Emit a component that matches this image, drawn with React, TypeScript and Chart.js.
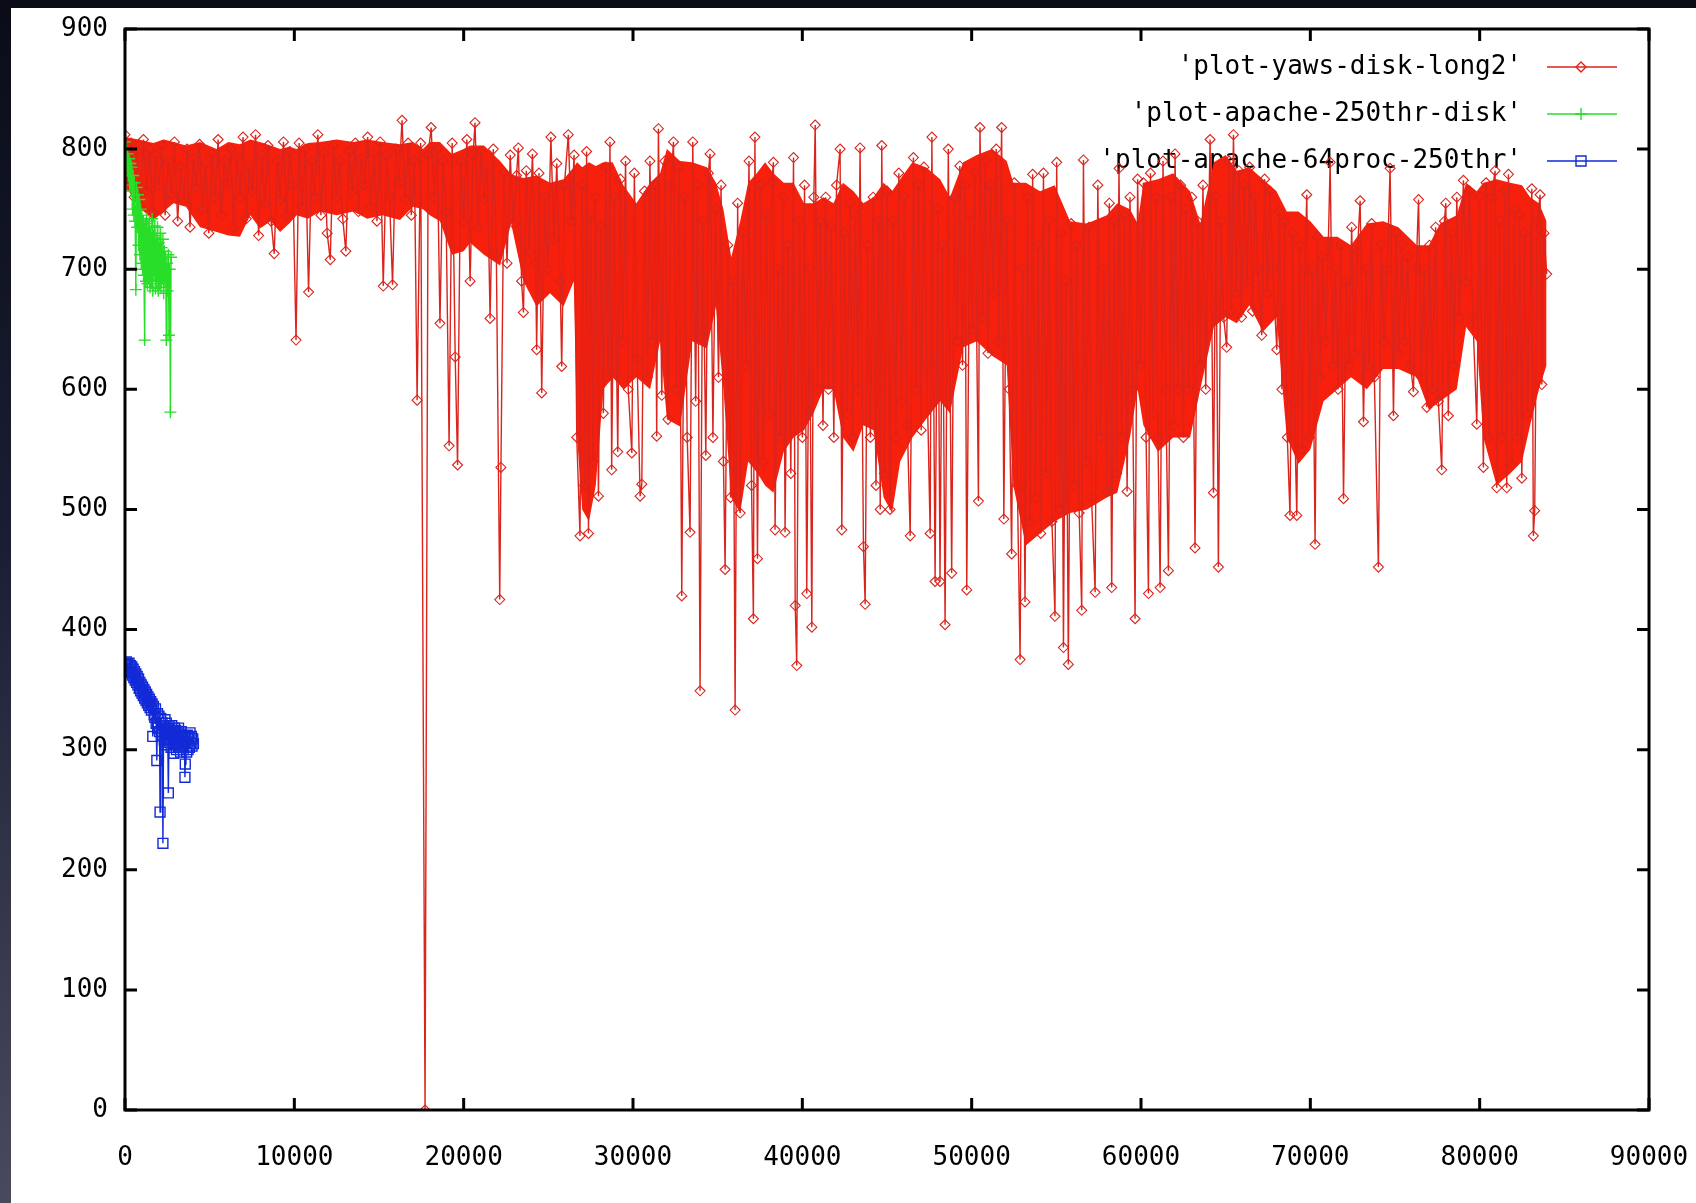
import { useEffect, useRef } from "react";
import { Chart, registerables } from "chart.js";

Chart.register(...registerables);

// ---- data ----
const seriesLabels = [
  "'plot-yaws-disk-long2'",
  "'plot-apache-250thr-disk'",
  "'plot-apache-64proc-250thr'",
];

const xTickValues = [0, 10000, 20000, 30000, 40000, 50000, 60000, 70000, 80000, 90000];
const yTickValues = [0, 100, 200, 300, 400, 500, 600, 700, 800, 900];

// individual samples of the yaws run (spikes and peaks that stick out of the dense mass)
const yawsDiskLong2: [number, number][] = [
  [0, 812], [170, 770], [360, 805], [540, 760], [720, 798], [900, 752], [1090, 808], [1270, 765], [1450, 800], [1640, 748],
  [1820, 795], [2000, 770], [2190, 803], [2370, 745], [2560, 790], [2740, 762], [2920, 806], [3110, 740], [3290, 785], [3480, 758],
  [3660, 800], [3840, 735], [4030, 792], [4210, 768], [4400, 804], [4580, 750], [4760, 788], [4950, 730], [5130, 796], [5320, 760],
  [5500, 808], [5680, 745], [5870, 790], [6050, 772], [6240, 800], [6420, 735], [6600, 793], [6790, 760], [6970, 810], [7160, 742],
  [7340, 785], [7520, 765], [7710, 812], [7890, 728], [8080, 795], [8260, 755], [8440, 803], [8630, 740], [8810, 713], [9000, 790],
  [9180, 758], [9360, 806], [9550, 745], [9730, 798], [9920, 770], [10100, 641], [10280, 805], [10470, 752], [10650, 800], [10840, 681],
  [11020, 790], [11200, 760], [11390, 812], [11570, 745], [11760, 797], [11940, 730], [12120, 708], [12310, 803], [12490, 760], [12680, 790],
  [12860, 742], [13040, 715], [13230, 798], [13410, 765], [13600, 805], [13780, 748], [13960, 792], [14150, 770], [14330, 810], [14520, 752],
  [14700, 796], [14880, 740], [15070, 806], [15250, 686], [15440, 795], [15620, 760], [15800, 687], [15990, 800], [16170, 772], [16360, 824],
  [16540, 758], [16720, 805], [16910, 745], [17090, 790], [17250, 591], [17460, 805], [17720, 0],
  [17900, 795], [18080, 818], [18260, 760], [18440, 800], [18600, 655], [18780, 790], [18960, 748], [19140, 553], [19320, 805], [19500, 627],
  [19640, 537], [19820, 790], [20000, 740], [20190, 808], [20380, 690], [20560, 795], [20670, 822], [20850, 735], [21030, 798], [21220, 758],
  [21400, 785], [21560, 659], [21750, 800], [21930, 712], [22130, 425], [22200, 535], [22380, 780], [22560, 705], [22750, 795], [22930, 738],
  [23120, 778], [23230, 801], [23420, 690], [23530, 664], [23700, 782], [23880, 715], [24060, 796], [24250, 705], [24310, 633], [24450, 780],
  [24610, 597], [24780, 760], [24960, 700], [25150, 810], [25330, 725], [25500, 788], [25700, 690], [25790, 619], [25950, 770], [26180, 812],
  [26350, 740], [26520, 795], [26680, 560], [26870, 478], [27000, 770], [27150, 520], [27260, 798], [27370, 480], [27500, 745], [27640, 540],
  [27780, 760], [27960, 511], [28100, 735], [28250, 580], [28400, 785], [28520, 610], [28640, 806], [28740, 533], [28900, 760], [29100, 548],
  [29250, 775], [29400, 640], [29560, 790], [29720, 600], [29930, 547], [30080, 780], [30240, 625], [30420, 511], [30520, 521], [30680, 765],
  [30850, 610], [31000, 790], [31150, 640], [31300, 770], [31400, 561], [31500, 817],
  [31700, 595], [31880, 790], [32060, 575], [32240, 770], [32390, 806], [32560, 600], [32720, 785], [32880, 428], [33050, 760], [33200, 560],
  [33370, 481], [33530, 806], [33700, 590], [33820, 770], [33960, 349], [34120, 740], [34300, 545], [34450, 780], [34550, 796], [34720, 560],
  [34880, 750], [35050, 610], [35200, 770], [35340, 540], [35440, 450], [35600, 720], [35760, 510], [35900, 690], [36030, 333], [36180, 755],
  [36330, 497], [36500, 730], [36680, 620], [36850, 790], [37000, 520], [37110, 409], [37200, 810], [37350, 459], [37520, 770], [37700, 540],
  [37880, 745], [38050, 580], [38200, 772], [38290, 789], [38390, 483], [38560, 700], [38720, 560], [38880, 760], [38980, 481], [39150, 720],
  [39320, 530], [39480, 793], [39580, 420], [39670, 370], [39820, 740], [40000, 560], [40130, 770], [40260, 430], [40420, 700], [40560, 402],
  [40680, 760], [40760, 820], [40900, 600], [41060, 740], [41220, 570], [41380, 760], [41540, 600], [41700, 735], [41860, 560], [42020, 770],
  [42230, 800], [42330, 483], [42480, 730], [42650, 580], [42810, 755], [42970, 560], [43130, 745], [43290, 600], [43410, 801], [43610, 469],
  [43710, 421], [43860, 720], [44020, 560], [44180, 760], [44350, 520], [44500, 740], [44600, 500], [44690, 803], [44850, 530], [45000, 765],
  [45180, 500], [45350, 740], [45520, 560], [45700, 780], [45860, 590], [46020, 760], [46200, 570], [46370, 478], [46560, 793], [46700, 600],
  [46860, 770], [47020, 566], [47180, 785], [47350, 620], [47550, 480], [47650, 810], [47840, 440], [48000, 750],
  [48130, 440], [48280, 720], [48430, 404], [48620, 800], [48820, 447], [48980, 760], [49140, 640], [49300, 786], [49460, 620], [49600, 770],
  [49710, 433], [49880, 745], [50040, 650], [50200, 780], [50400, 507], [50490, 818], [50650, 660], [50800, 790], [50960, 630], [51120, 770],
  [51280, 680], [51450, 800], [51600, 640], [51770, 818], [51900, 492], [52060, 740], [52220, 600], [52360, 463], [52520, 772], [52700, 520],
  [52860, 375], [53000, 700], [53150, 423], [53300, 760], [53460, 490], [53600, 779], [53760, 510], [53920, 720], [54080, 480], [54240, 780],
  [54400, 530], [54560, 740], [54740, 490], [54920, 411], [55020, 789], [55180, 500], [55300, 730], [55420, 385], [55560, 690], [55710, 371],
  [55880, 738], [56040, 520], [56200, 720], [56350, 497], [56500, 416], [56600, 791], [56760, 540], [56920, 735], [57080, 510], [57290, 431],
  [57450, 770], [57620, 560], [57800, 700], [57980, 515], [58130, 755], [58270, 435], [58420, 740], [58560, 530], [58700, 784], [58860, 560],
  [59020, 745], [59180, 515], [59350, 760], [59500, 600], [59650, 409], [59800, 775], [59960, 620], [60140, 772], [60300, 560], [60440, 430],
  [60560, 780], [60720, 580], [60880, 760], [61000, 560], [61130, 435], [61300, 790], [61460, 600], [61620, 449], [61780, 760], [61920, 570],
  [62010, 796], [62180, 600], [62340, 770], [62500, 560], [62660, 750], [62820, 600], [63000, 760], [63190, 468], [63350, 740],
  [63500, 620], [63660, 770], [63820, 600], [64080, 808], [64280, 514], [64420, 760], [64570, 452], [64720, 740], [64880, 660], [65060, 635],
  [65200, 790], [65340, 665], [65460, 812], [65620, 680], [65780, 782], [65940, 660], [66100, 770], [66260, 690], [66420, 785], [66580, 665],
  [66740, 760], [66900, 700], [67130, 645], [67300, 775], [67460, 680], [67620, 765], [67780, 700], [68020, 633], [68160, 748], [68320, 600],
  [68480, 740], [68640, 560], [68800, 495], [68950, 730], [69050, 590], [69200, 495], [69360, 720], [69520, 550], [69680, 700], [69790, 762],
  [69950, 560], [70120, 700], [70280, 471], [70420, 727], [70580, 610], [70740, 710], [70900, 640], [71060, 720], [71170, 789], [71320, 620],
  [71480, 700], [71640, 600], [71800, 720], [71960, 509], [72120, 690], [72280, 620], [72440, 735], [72600, 630], [72780, 715], [72940, 757],
  [73140, 573], [73300, 700], [73460, 620], [73620, 738], [73780, 610], [74020, 452], [74180, 720], [74360, 640], [74540, 700], [74710, 784],
  [74910, 578], [75060, 730], [75220, 630], [75400, 720], [75560, 640], [75740, 710], [75920, 620], [76090, 598], [76250, 700], [76390, 758],
  [76560, 610], [76720, 700], [76880, 585], [77040, 720], [77200, 600], [77400, 735], [77560, 590], [77760, 533], [77920, 740], [78000, 755],
  [78150, 578], [78320, 730], [78480, 620], [78650, 760], [78800, 660], [79040, 774], [79200, 690], [79400, 765], [79600, 660], [79830, 571],
  [80000, 760], [80220, 535], [80380, 772], [80540, 560], [80700, 760], [80910, 782], [81010, 518], [81160, 740], [81320, 560], [81480, 765],
  [81600, 518], [81700, 779], [81900, 537], [82050, 750], [82200, 560], [82350, 745], [82490, 526], [82650, 730], [82820, 580], [83080, 767],
  [83170, 478], [83250, 499], [83400, 740], [83570, 762], [83670, 604], [83800, 730], [83960, 696],
];

// the dense core of the yaws run, read as its upper and lower edge
const yawsBodyX = [
  0, 800, 1670, 2300, 2860, 3600, 4430, 5410, 6100, 6790,
  7400, 7970, 8600, 9160, 9700, 10140, 10800, 11520, 12500, 13490,
  14300, 15200, 16240, 17000, 17600, 18000, 18600, 19300, 20000, 20380,
  21200, 22150, 22800, 23530, 24300, 25100, 25900, 26500, 26700, 27000,
  27400, 27800, 28250, 28800, 29430, 30200, 31010, 31600, 32000, 32780,
  33500, 34360, 34900, 35340, 35800, 36330, 36800, 37310, 37800, 38290,
  38900, 39480, 40100, 40660, 41250, 41840, 42400, 43020, 43600, 44200,
  44800, 45300, 45780, 46500, 47300, 48140, 48720, 49500, 50300, 51200,
  52070, 52460, 53200, 54040, 54900, 55810, 56800, 57980, 58600, 59350,
  59800, 60140, 61000, 61900, 62900, 63500, 64300, 65000, 65660, 66400,
  67200, 68000, 68610, 69300, 70000, 70780, 71600, 72400, 73340, 74300,
  75200, 76290, 77000, 77670, 78650, 79200, 79830, 80220, 81000, 81800,
  82500, 82980, 83500, 83950,
];
const yawsBodyHigh = [
  810, 808, 805, 808, 806, 803, 806, 800, 806, 804,
  808, 806, 803, 800, 802, 800, 805, 806, 808, 806,
  808, 806, 804, 806, 800, 806, 806, 796, 800, 803,
  803, 790, 779, 776, 778, 772, 775, 785, 789, 785,
  789, 786, 789, 789, 770, 755, 772, 780, 800, 790,
  789, 785, 772, 750, 710, 740, 772, 780, 789, 780,
  772, 772, 755, 755, 760, 755, 772, 765, 755, 760,
  772, 765, 775, 789, 785, 775, 760, 789, 795, 800,
  790, 772, 772, 765, 770, 740, 738, 745, 755, 750,
  738, 772, 775, 780, 765, 738, 789, 795, 782, 785,
  775, 765, 748, 748, 740, 727, 727, 720, 738, 740,
  735, 720, 720, 738, 745, 772, 765, 772, 775, 772,
  770, 760, 755, 740,
];
const yawsBodyLow = [
  770, 752, 741, 748, 755, 752, 735, 731, 728, 727,
  745, 734, 740, 731, 738, 745, 742, 748, 745, 748,
  742, 745, 741, 752, 750, 745, 740, 712, 715, 722,
  712, 703, 738, 690, 669, 680, 669, 690, 560, 500,
  490, 520, 600, 610, 600, 610, 600, 640, 575, 569,
  640, 634, 669, 600, 510, 497, 540, 531, 520, 514,
  548, 560, 566, 580, 600, 600, 560, 548, 570, 566,
  510, 497, 540, 560, 575, 590, 580, 635, 640, 628,
  620, 520, 470, 480, 490, 497, 500, 510, 514, 560,
  600, 570, 548, 560, 560, 600, 652, 660, 655, 670,
  648, 660, 560, 538, 550, 590, 600, 610, 600, 617,
  617, 610, 583, 590, 600, 652, 640, 560, 520, 530,
  540, 570, 600, 620,
];

const apache250thrDisk: [number, number][] = [
  [0, 806], [40, 790], [80, 800], [120, 782], [160, 796], [200, 778], [240, 792], [280, 770], [320, 788], [360, 765],
  [400, 785], [440, 750], [480, 778], [520, 745], [560, 772], [600, 740], [640, 683], [680, 768], [720, 735], [760, 762],
  [800, 720], [840, 758], [880, 712], [920, 750], [960, 705], [1000, 745], [1040, 700], [1080, 740], [1120, 695], [1160, 641],
  [1200, 738], [1240, 690], [1280, 742], [1320, 688], [1360, 735], [1400, 692], [1440, 740], [1480, 685], [1520, 730], [1560, 690],
  [1600, 742], [1640, 682], [1680, 728], [1720, 695], [1760, 736], [1800, 684], [1840, 725], [1880, 690], [1920, 735], [1960, 682],
  [2000, 722], [2040, 688], [2080, 730], [2120, 685], [2160, 718], [2200, 692], [2240, 725], [2280, 680], [2320, 715], [2360, 690],
  [2400, 710], [2440, 641], [2480, 705], [2520, 682], [2560, 712], [2600, 645], [2640, 700], [2680, 581], [2720, 710],
];

const apache64proc250thr: [number, number][] = [
  [0, 370], [40, 366], [80, 373], [120, 368], [160, 371], [200, 365], [240, 372], [280, 367], [320, 370], [360, 364],
  [400, 369], [440, 362], [480, 367], [520, 360], [560, 365], [600, 358], [640, 363], [680, 356], [720, 361], [760, 354],
  [800, 359], [840, 351], [880, 356], [920, 349], [960, 354], [1000, 347], [1040, 352], [1080, 345], [1120, 350], [1160, 343],
  [1200, 348], [1240, 341], [1280, 346], [1320, 339], [1360, 344], [1400, 337], [1440, 342], [1480, 335], [1520, 340], [1560, 333],
  [1600, 338], [1640, 311], [1680, 336], [1720, 329], [1760, 327], [1800, 334], [1840, 322], [1880, 291], [1920, 330], [1960, 318],
  [2000, 328], [2040, 315], [2070, 248], [2110, 326], [2150, 312], [2190, 322], [2240, 222], [2280, 320], [2320, 308], [2360, 325],
  [2400, 304], [2440, 322], [2480, 310], [2520, 318], [2560, 264], [2600, 320], [2640, 306], [2680, 316], [2720, 302], [2760, 320],
  [2800, 308], [2840, 314], [2880, 297], [2920, 318], [2960, 304], [3000, 316], [3040, 300], [3080, 314], [3120, 305], [3160, 318],
  [3200, 302], [3240, 312], [3280, 298], [3320, 315], [3360, 303], [3400, 311], [3440, 300], [3500, 310], [3540, 277], [3560, 288],
  [3600, 306], [3640, 298], [3680, 312], [3720, 300], [3760, 310], [3800, 302], [3840, 314], [3880, 305], [3920, 311], [3960, 303],
  [4000, 309], [4040, 305],
];

// ---- styles ----
const RED = "rgb(218,36,28)";
const RED_BODY = "rgb(246,32,12)";
const GREEN = "rgb(40,222,40)";
const BLUE = "rgb(18,42,215)";
const FONT = '"DejaVu Sans Mono", "Liberation Mono", monospace';

const toXY = (pts: [number, number][]) => pts.map(([x, y]) => ({ x, y }));
const zipXY = (xs: number[], ys: number[]) => xs.map((x, i) => ({ x, y: ys[i] }));

function drawMarker(ctx: CanvasRenderingContext2D, style: string, x: number, y: number) {
  ctx.beginPath();
  if (style === "rectRot") {
    const r = 5;
    ctx.moveTo(x, y - r);
    ctx.lineTo(x + r, y);
    ctx.lineTo(x, y + r);
    ctx.lineTo(x - r, y);
    ctx.closePath();
  } else if (style === "cross") {
    const r = 6;
    ctx.moveTo(x - r, y);
    ctx.lineTo(x + r, y);
    ctx.moveTo(x, y - r);
    ctx.lineTo(x, y + r);
  } else {
    const h = 5;
    ctx.rect(x - h, y - h, 2 * h, 2 * h);
  }
  ctx.stroke();
}

const keyPlugin = {
  id: "gnuKey",
  beforeDatasetsDraw(chart: any) {
    const { ctx, chartArea } = chart;
    ctx.save();
    ctx.font = `26px ${FONT}`;
    ctx.textAlign = "right";
    ctx.textBaseline = "middle";
    chart.data.datasets.forEach((ds: any, i: number) => {
      if (!seriesLabels.includes(ds.label)) return;
      const y = chartArea.top + 38 + i * 47;
      ctx.fillStyle = "#000";
      ctx.fillText(ds.label, chartArea.right - 127, y);
      ctx.strokeStyle = ds.borderColor;
      ctx.lineWidth = 1.6;
      ctx.beginPath();
      ctx.moveTo(chartArea.right - 102, y);
      ctx.lineTo(chartArea.right - 32, y);
      ctx.stroke();
      ctx.lineWidth = 1.4;
      drawMarker(ctx, ds.pointStyle, chartArea.right - 68, y);
    });
    ctx.restore();
  },
};

const framePlugin = {
  id: "gnuFrame",
  afterDatasetsDraw(chart: any) {
    const { ctx, chartArea: a, scales } = chart;
    ctx.save();
    ctx.strokeStyle = "#000";
    ctx.lineWidth = 3;
    ctx.strokeRect(a.left, a.top, a.right - a.left, a.bottom - a.top);
    const tl = 12;
    ctx.beginPath();
    for (const v of xTickValues) {
      const px = scales.x.getPixelForValue(v);
      ctx.moveTo(px, a.bottom);
      ctx.lineTo(px, a.bottom - tl);
      ctx.moveTo(px, a.top);
      ctx.lineTo(px, a.top + tl);
    }
    for (const v of yTickValues) {
      const py = scales.y.getPixelForValue(v);
      ctx.moveTo(a.left, py);
      ctx.lineTo(a.left + tl, py);
      ctx.moveTo(a.right, py);
      ctx.lineTo(a.right - tl, py);
    }
    ctx.stroke();
    ctx.restore();
  },
};

const zeroPadding = (s: any) => {
  s.paddingTop = 0;
  s.paddingBottom = 0;
  s.paddingLeft = 0;
  s.paddingRight = 0;
};

export default function App() {
  const ref = useRef<HTMLCanvasElement | null>(null);

  useEffect(() => {
    if (!ref.current) return;
    const chart = new Chart(ref.current, {
      type: "line",
      data: {
        datasets: [
          {
            label: seriesLabels[0],
            data: toXY(yawsDiskLong2),
            borderColor: RED,
            borderWidth: 1.4,
            pointStyle: "rectRot",
            pointRadius: 5,
            pointBorderWidth: 1.1,
            pointBorderColor: RED,
            pointBackgroundColor: "rgba(0,0,0,0)",
            fill: false,
            order: 3,
          },
          {
            label: seriesLabels[1],
            data: toXY(apache250thrDisk),
            borderColor: GREEN,
            borderWidth: 1.4,
            pointStyle: "cross",
            pointRadius: 6,
            pointBorderWidth: 1.4,
            pointBorderColor: GREEN,
            pointBackgroundColor: "rgba(0,0,0,0)",
            fill: false,
            order: 2,
          },
          {
            label: seriesLabels[2],
            data: toXY(apache64proc250thr),
            borderColor: BLUE,
            borderWidth: 1.4,
            pointStyle: "rect",
            pointRadius: 7,
            pointBorderWidth: 1.4,
            pointBorderColor: BLUE,
            pointBackgroundColor: "rgba(0,0,0,0)",
            fill: false,
            order: 1,
          },
          {
            label: "yaws-body-high",
            data: zipXY(yawsBodyX, yawsBodyHigh),
            borderColor: "rgba(0,0,0,0)",
            borderWidth: 0,
            pointRadius: 0,
            fill: false,
            order: 10,
          },
          {
            label: "yaws-body-low",
            data: zipXY(yawsBodyX, yawsBodyLow),
            borderColor: "rgba(0,0,0,0)",
            borderWidth: 0,
            pointRadius: 0,
            backgroundColor: RED_BODY,
            fill: "-1",
            order: 11,
          },
        ] as any,
      },
      options: {
        animation: false,
        responsive: false,
        events: [],
        layout: { padding: { left: 0, top: 21, right: 47, bottom: 0 } },
        elements: { line: { tension: 0 } },
        plugins: { legend: { display: false }, tooltip: { enabled: false } },
        scales: {
          x: {
            type: "linear",
            min: 0,
            max: 90000,
            grid: { display: false, drawTicks: false },
            border: { display: false },
            ticks: {
              stepSize: 10000,
              autoSkip: false,
              maxRotation: 0,
              padding: 33,
              color: "#000",
              font: { family: FONT, size: 26 },
              callback: (v: any) => String(v),
            },
            afterFit: (s: any) => {
              s.height = 93;
              zeroPadding(s);
            },
          },
          y: {
            type: "linear",
            min: 0,
            max: 900,
            grid: { display: false, drawTicks: false },
            border: { display: false },
            ticks: {
              stepSize: 100,
              padding: 17,
              color: "#000",
              font: { family: FONT, size: 26 },
              callback: (v: any) => String(v),
            },
            afterFit: (s: any) => {
              s.width = 114;
              zeroPadding(s);
            },
          },
        },
      } as any,
      plugins: [keyPlugin, framePlugin],
    });
    return () => chart.destroy();
  }, []);

  return (
    <div
      style={{
        position: "fixed",
        inset: 0,
        background: "linear-gradient(to bottom, #0a0c18 0%, #1b1e33 45%, #4a4a5e 100%)",
      }}
    >
      <div
        style={{
          position: "absolute",
          left: 11,
          top: 8,
          right: 0,
          bottom: 0,
          background: "#ffffff",
        }}
      >
        <canvas ref={ref} width={1685} height={1195} style={{ display: "block", width: 1685, height: 1195 }} />
      </div>
    </div>
  );
}
